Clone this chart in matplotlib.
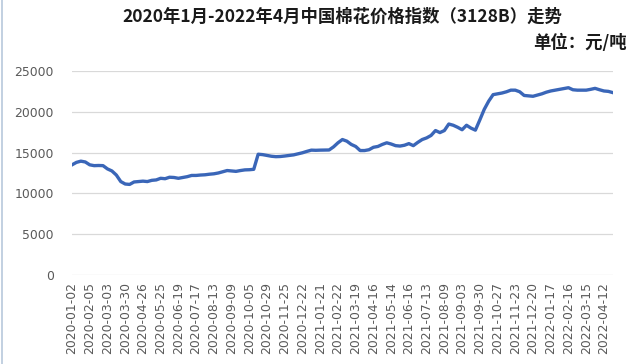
import numpy as np
import matplotlib
matplotlib.use('Agg')
import matplotlib.pyplot as plt

plt.rcParams['font.family'] = ['Noto Sans CJK SC', 'DejaVu Sans']

# x tick labels (trading-day category axis, every 4th sample)
tick_labels = [
    '2020-01-02', '2020-02-05', '2020-03-03', '2020-03-30', '2020-04-26',
    '2020-05-25', '2020-06-19', '2020-07-17', '2020-08-13', '2020-09-09',
    '2020-10-05', '2020-10-29', '2020-11-25', '2020-12-22', '2021-01-21',
    '2021-02-22', '2021-03-19', '2021-04-16', '2021-05-14', '2021-06-16',
    '2021-07-13', '2021-08-09', '2021-09-03', '2021-09-30', '2021-10-27',
    '2021-11-23', '2021-12-20', '2022-01-17', '2022-02-16', '2022-03-15',
    '2022-04-12',
]

# cotton index (yuan/ton)
price = [
    13500, 13800, 13950, 13850, 13500, 13400, 13420, 13400, 13000, 12750,
    12250, 11450, 11150, 11100, 11400, 11450, 11500, 11450, 11600, 11650,
    11850, 11800, 11980, 11950, 11850, 11950, 12050, 12200, 12200, 12250,
    12280, 12350, 12400, 12500, 12650, 12800, 12750, 12700, 12800, 12880,
    12900, 12950, 14800, 14750, 14650, 14550, 14500, 14520, 14580, 14650,
    14720, 14850, 14980, 15150, 15300, 15280, 15300, 15310, 15320, 15700,
    16200, 16600, 16400, 16000, 15750, 15250, 15250, 15350, 15650, 15750,
    16000, 16200, 16050, 15850, 15800, 15900, 16100, 15850, 16250, 16600,
    16800, 17100, 17700, 17450, 17700, 18500, 18350, 18100, 17800, 18350,
    18000, 17750, 19000, 20300, 21300, 22100, 22200, 22300, 22450, 22650,
    22650, 22450, 22000, 21950, 21900, 22050, 22200, 22400, 22550, 22650,
    22750, 22850, 22950, 22700, 22650, 22650, 22650, 22750, 22870, 22700,
    22550, 22500, 22350,
]

title = '2020年1月-2022年4月中国棉花价格指数（3128B）走势'
unit = '单位：元/吨'

fig = plt.figure(figsize=(6.4, 3.64), dpi=100)
ax = fig.add_axes([0.1125, 0.2445, 0.845, 0.5605])

x = np.arange(len(price))
ax.plot(x, price, color='#3A66B8', linewidth=2.4, solid_joinstyle='round')

ax.set_xlim(0, len(price) - 1)
ax.set_ylim(0, 25000)
ax.set_yticks(range(0, 25001, 5000))
ax.set_xticks(x[::4][:len(tick_labels)])
ax.set_xticklabels(tick_labels, rotation=90, family='DejaVu Sans')
for lab in ax.get_yticklabels():
    lab.set_family('DejaVu Sans')
ax.tick_params(axis='both', length=0, labelsize=8.9, colors='#595959')
ax.tick_params(axis='x', pad=5)
ax.tick_params(axis='y', pad=13)

ax.grid(axis='y', color='#d9d9d9', linewidth=0.9)
ax.set_axisbelow(True)
for s in ax.spines.values():
    s.set_visible(False)

fig.text(0.535, 0.953, title, ha='center', va='center',
         fontsize=12.5, fontweight='bold', color='#1a1a1a')
fig.text(0.98, 0.882, unit, ha='right', va='center',
         fontsize=12.5, fontweight='bold', color='#1a1a1a')

# faint frame edge on the left as in the screenshot
fig.add_artist(plt.Line2D([0.003, 0.003], [0, 1], color='#b8c8dc', linewidth=1.2))

fig.savefig('out.png', dpi=100)
